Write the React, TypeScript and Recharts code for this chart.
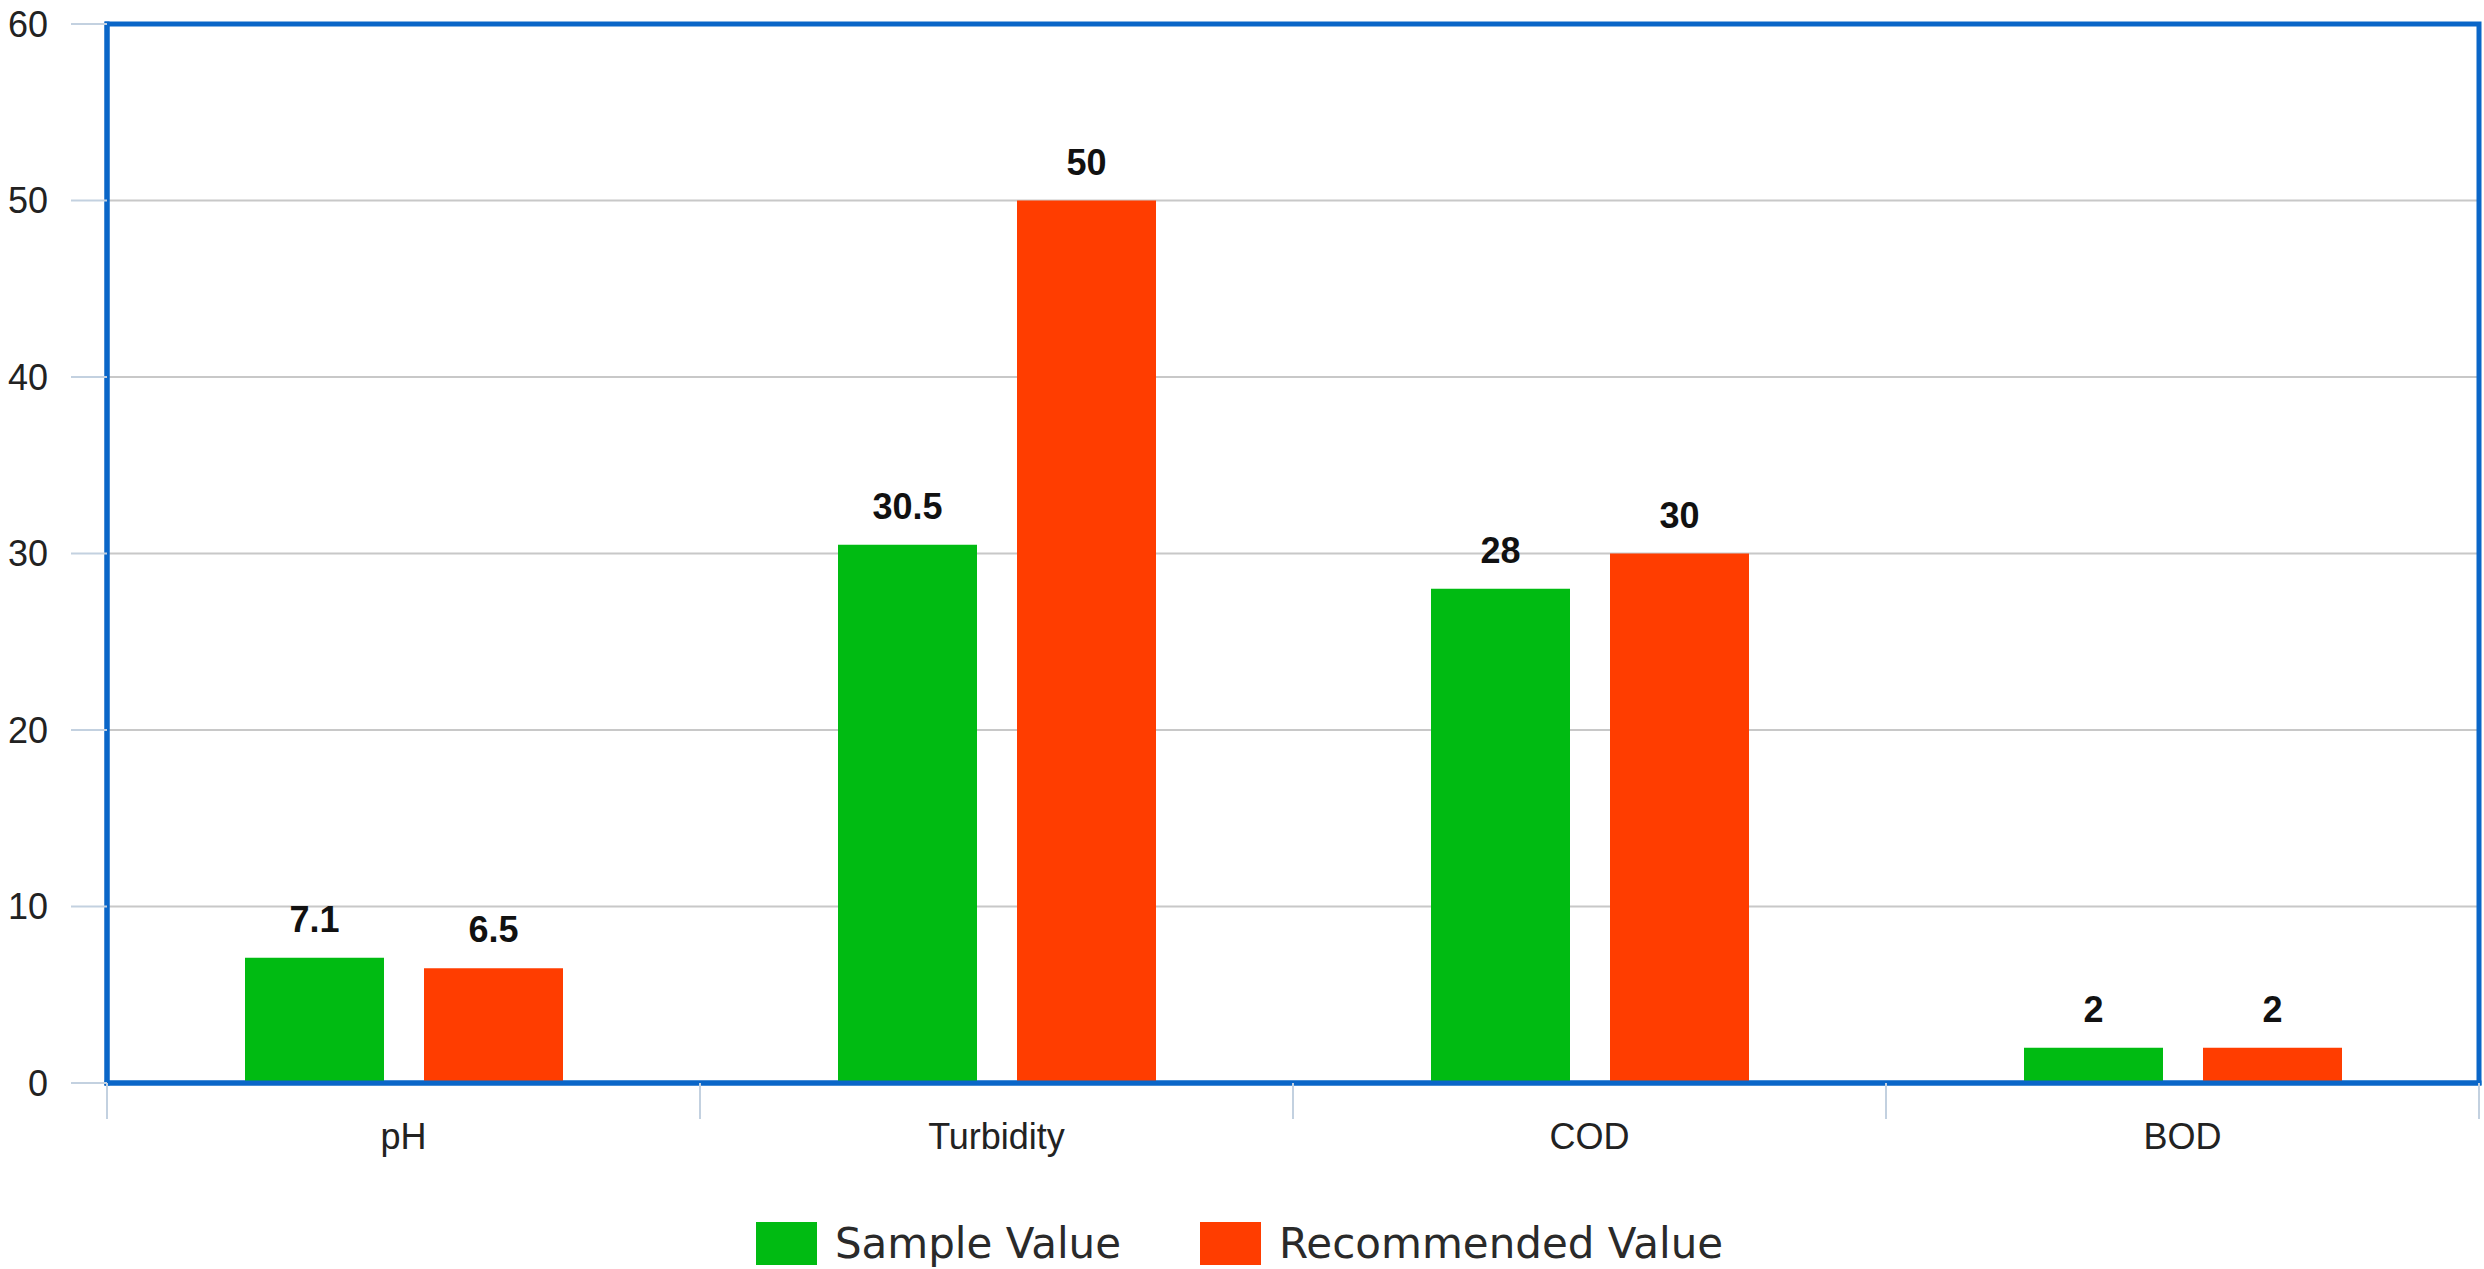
import { BarChart, Bar, XAxis, YAxis, CartesianGrid, Legend, LabelList, ReferenceArea } from "recharts";

const categories = ["pH", "Turbidity", "COD", "BOD"];
const sampleValues = [7.1, 30.5, 28, 2];
const recommendedValues = [6.5, 50, 30, 2];
const yTicks = [0, 10, 20, 30, 40, 50, 60];

const seriesNames = { sample: "Sample Value", recommended: "Recommended Value" };

const GREEN = "#00bb12";
const RED = "#ff3d00";
const BORDER = "#0a66c8";
const TICK_GRAY = "#c3d1e0";
const GRID = "#c8c8c8";

const data = categories.map((name, i) => ({
  name,
  sample: sampleValues[i],
  recommended: recommendedValues[i],
}));

const W = 2484;
const H = 1269;

const CategoryTick = (props: any) => {
  const { x, y, payload } = props;
  const half = payload?.offset ?? 296;
  const last = payload?.value === categories[categories.length - 1];
  return (
    <g>
      <line x1={x - half} x2={x - half} y1={y} y2={y + 36} stroke={TICK_GRAY} strokeWidth={2} />
      {last && <line x1={x + half} x2={x + half} y1={y} y2={y + 36} stroke={TICK_GRAY} strokeWidth={2} />}
      <text x={x} y={y + 40} dy="0.71em" textAnchor="middle" fontSize={36} fill="#222">
        {payload.value}
      </text>
    </g>
  );
};

const LegendContent = () => (
  <div
    style={{
      display: "flex",
      justifyContent: "center",
      alignItems: "center",
      height: 46,
      fontFamily: "'DejaVu Sans', sans-serif",
      fontSize: 42,
      color: "#2a2a2a",
    }}
  >
    {[
      { label: seriesNames.sample, color: GREEN },
      { label: seriesNames.recommended, color: RED },
    ].map((it, i) => (
      <div key={it.label} style={{ display: "flex", alignItems: "center", marginLeft: i ? 79 : 0 }}>
        <div style={{ width: 61, height: 43, background: it.color, marginRight: 18 }} />
        <span>{it.label}</span>
      </div>
    ))}
  </div>
);

export default function App() {
  return (
    <div
      style={{
        position: "absolute",
        left: 0,
        top: 0,
        width: W,
        height: H,
        background: "#fff",
        fontFamily: "'Liberation Sans', Arial, sans-serif",
      }}
    >
      <BarChart
        width={W}
        height={H}
        data={data}
        margin={{ top: 24, right: 5, bottom: 3, left: 0 }}
        barSize={139}
        barGap={40}
      >
        <CartesianGrid vertical={false} stroke={GRID} strokeWidth={2} />
        <XAxis
          dataKey="name"
          height={137}
          tick={<CategoryTick />}
          tickSize={0}
          tickMargin={0}
          tickLine={false}
          interval={0}
          axisLine={{ stroke: BORDER, strokeWidth: 5, strokeLinecap: "square" }}
        />
        <YAxis
          width={107}
          domain={[0, 60]}
          ticks={yTicks}
          interval={0}
          tickSize={36}
          tickMargin={23}
          tickLine={{ stroke: TICK_GRAY, strokeWidth: 2 }}
          tick={{ fontSize: 36, fill: "#222" }}
          axisLine={{ stroke: BORDER, strokeWidth: 5, strokeLinecap: "square" }}
        />
        <ReferenceArea
          x1={categories[0]}
          x2={categories[categories.length - 1]}
          y1={0}
          y2={60}
          fill="none"
          fillOpacity={0}
          stroke={BORDER}
          strokeWidth={5}
        />
        <Legend verticalAlign="bottom" content={<LegendContent />} />
        <Bar dataKey="sample" name={seriesNames.sample} fill={GREEN} isAnimationActive={false}>
          <LabelList dataKey="sample" position="top" offset={26} fill="#111" fontSize={36} fontWeight="bold" />
        </Bar>
        <Bar dataKey="recommended" name={seriesNames.recommended} fill={RED} isAnimationActive={false}>
          <LabelList dataKey="recommended" position="top" offset={26} fill="#111" fontSize={36} fontWeight="bold" />
        </Bar>
      </BarChart>
    </div>
  );
}
